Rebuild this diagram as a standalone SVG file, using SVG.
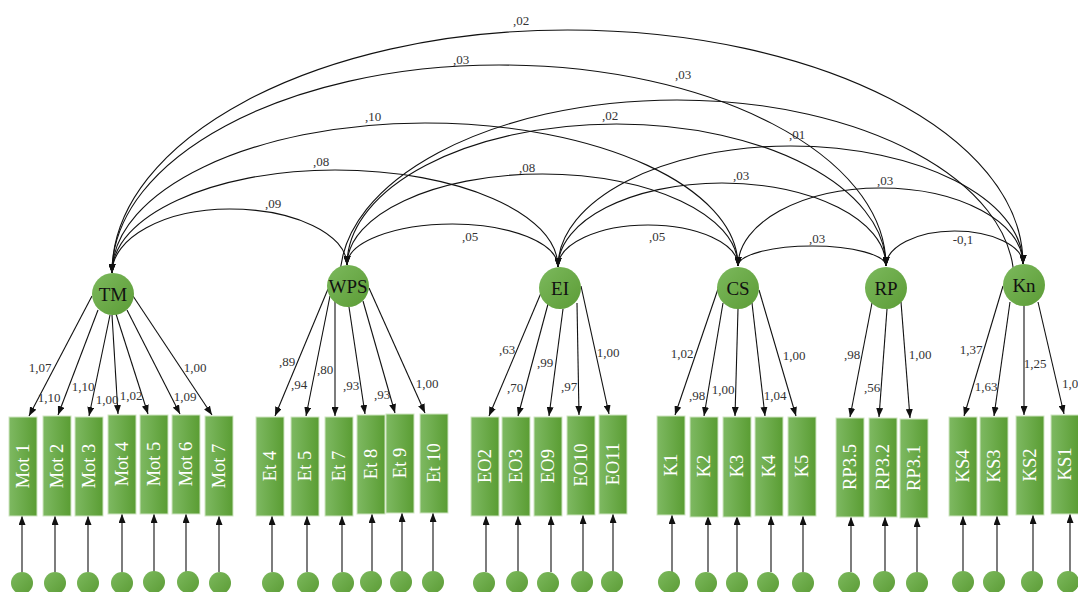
<svg xmlns="http://www.w3.org/2000/svg" width="1078" height="592" viewBox="0 0 1078 592">
<style>
.bg{fill:#ffffff}
.lat{fill:url(#gC)}
.err{fill:url(#gC)}
.box{fill:url(#gB);stroke:#cfe5c2;stroke-width:1}
.ln{stroke:#111;stroke-width:1.1;fill:none;marker-end:url(#ah)}
.arc{stroke:#111;stroke-width:1.1;fill:none;marker-start:url(#ah);marker-end:url(#ah)}
.lt{font-family:"Liberation Serif",serif;font-size:19px;fill:#111;text-anchor:middle}
.bt{font-family:"Liberation Serif",serif;font-size:18.5px;fill:#ffffff;text-anchor:middle}
.nl{font-family:"Liberation Serif",serif;font-size:13px;fill:#333;text-anchor:middle}
</style>
<defs>
<linearGradient id="gB" x1="0" y1="0" x2="1" y2="0">
<stop offset="0" stop-color="#7eb962"/>
<stop offset="1" stop-color="#5a9d33"/>
</linearGradient>
<linearGradient id="gC" x1="0" y1="0" x2="1" y2="1">
<stop offset="0" stop-color="#7cb95d"/>
<stop offset="1" stop-color="#5c9c36"/>
</linearGradient>
<marker id="ah" viewBox="0 0 10 10" refX="10" refY="5" markerWidth="9" markerHeight="7" markerUnits="userSpaceOnUse" orient="auto-start-reverse" preserveAspectRatio="none">
<path d="M0,0 L10,5 L0,10 z" fill="#111"/>
</marker>
</defs>
<rect class="bg" x="0" y="0" width="1078" height="592"/>

<g id="connectors">
<!-- covariances -->
<path class="arc" d="M112,273 C112,237.7 164.6,209 229.5,209 C294.4,209 347,234.1 347,265"/>
<path class="arc" d="M112,273 C112,216.1 211.8,170 335,170 C458.2,170 558,213.4 558,267"/>
<path class="arc" d="M112,273 C112,190.2 252.1,123 425,123 C597.9,123 738,187 738,266"/>
<path class="arc" d="M112,273 C112,158.1 285.3,65 499,65 C712.7,65 886,155 886,266"/>
<path class="arc" d="M112,273 C112,138.8 315.9,30 567.5,30 C819.1,30 1023,134.8 1023,264"/>
<path class="arc" d="M347,265 C347,242.4 394.2,224 452.5,224 C510.8,224 558,243.3 558,267"/>
<path class="arc" d="M347,265 C347,214.7 434.5,174 542.5,174 C650.5,174 738,215.2 738,266"/>
<path class="arc" d="M347,265 C347,187.1 467.7,124 616.5,124 C765.3,124 886,187.6 886,266"/>
<path class="arc" d="M340,279 C340,180.1 490.9,100 677,100 C863.1,100 1014,181 1014,281"/>
<path class="arc" d="M558,267 C558,243.8 598.3,225 648,225 C697.7,225 738,243.4 738,266"/>
<path class="arc" d="M558,267 C558,220.6 631.4,183 722,183 C812.6,183 886,220.2 886,266"/>
<path class="arc" d="M558,267 C558,200.2 662.1,146 790.5,146 C918.9,146 1023,198.8 1023,264"/>
<path class="arc" d="M738,266 C738,255 771.1,246 812,246 C852.9,246 886,255 886,266"/>
<path class="arc" d="M738,266 C738,222.9 801.8,188 880.5,188 C959.2,188 1023,222 1023,264"/>
<path class="arc" d="M886,266 C886,246.7 916.7,231 954.5,231 C992.3,231 1023,245.8 1023,264"/>
<!-- loadings -->
<line class="ln" x1="92" y1="296" x2="29" y2="416"/>
<line class="ln" x1="98" y1="310" x2="58" y2="415"/>
<line class="ln" x1="110" y1="315" x2="89" y2="416"/>
<line class="ln" x1="112" y1="315" x2="118" y2="414"/>
<line class="ln" x1="116" y1="314" x2="148" y2="414"/>
<line class="ln" x1="127" y1="310" x2="180" y2="414"/>
<line class="ln" x1="133" y1="296" x2="212" y2="415"/>
<line class="ln" x1="328" y1="289" x2="275" y2="416"/>
<line class="ln" x1="330" y1="296" x2="306" y2="416"/>
<line class="ln" x1="335" y1="300" x2="335" y2="416"/>
<line class="ln" x1="349" y1="307" x2="365" y2="414"/>
<line class="ln" x1="363" y1="301" x2="395" y2="413"/>
<line class="ln" x1="369" y1="288" x2="425" y2="413"/>
<line class="ln" x1="541" y1="293" x2="489" y2="416"/>
<line class="ln" x1="548" y1="304" x2="518" y2="416"/>
<line class="ln" x1="563" y1="309" x2="549" y2="416"/>
<line class="ln" x1="577" y1="303" x2="579" y2="415"/>
<line class="ln" x1="581" y1="286" x2="609" y2="414"/>
<line class="ln" x1="718" y1="289" x2="675" y2="415"/>
<line class="ln" x1="723" y1="303" x2="704" y2="416"/>
<line class="ln" x1="738" y1="309" x2="735" y2="416"/>
<line class="ln" x1="752" y1="303" x2="765" y2="416"/>
<line class="ln" x1="759" y1="290" x2="796" y2="416"/>
<line class="ln" x1="872" y1="303" x2="850" y2="417"/>
<line class="ln" x1="887" y1="309" x2="879" y2="417"/>
<line class="ln" x1="901" y1="302" x2="910" y2="418"/>
<line class="ln" x1="1003" y1="286" x2="964" y2="416"/>
<line class="ln" x1="1010" y1="302" x2="994" y2="416"/>
<line class="ln" x1="1024" y1="306" x2="1024" y2="415"/>
<line class="ln" x1="1038" y1="302" x2="1064" y2="414"/>
<!-- errors -->
<line class="ln" x1="22" y1="572" x2="22" y2="516"/>
<line class="ln" x1="55" y1="572" x2="55" y2="516"/>
<line class="ln" x1="88" y1="572" x2="88" y2="516"/>
<line class="ln" x1="122" y1="572" x2="122" y2="514"/>
<line class="ln" x1="154" y1="572" x2="154" y2="514"/>
<line class="ln" x1="186" y1="572" x2="186" y2="514"/>
<line class="ln" x1="219" y1="572" x2="219" y2="516"/>
<line class="ln" x1="272" y1="572" x2="272" y2="516"/>
<line class="ln" x1="307" y1="572" x2="307" y2="516"/>
<line class="ln" x1="342" y1="572" x2="342" y2="516"/>
<line class="ln" x1="372" y1="572" x2="372" y2="514"/>
<line class="ln" x1="402" y1="572" x2="402" y2="513"/>
<line class="ln" x1="433" y1="572" x2="433" y2="513"/>
<line class="ln" x1="486" y1="572" x2="486" y2="516"/>
<line class="ln" x1="518" y1="572" x2="518" y2="516"/>
<line class="ln" x1="551" y1="572" x2="551" y2="516"/>
<line class="ln" x1="583" y1="572" x2="583" y2="515"/>
<line class="ln" x1="613" y1="572" x2="613" y2="514"/>
<line class="ln" x1="672" y1="572" x2="672" y2="515"/>
<line class="ln" x1="708" y1="572" x2="708" y2="516"/>
<line class="ln" x1="737" y1="572" x2="737" y2="516"/>
<line class="ln" x1="771" y1="572" x2="771" y2="516"/>
<line class="ln" x1="803" y1="572" x2="803" y2="516"/>
<line class="ln" x1="851" y1="572" x2="851" y2="517"/>
<line class="ln" x1="885" y1="572" x2="885" y2="517"/>
<line class="ln" x1="917" y1="572" x2="917" y2="518"/>
<line class="ln" x1="963" y1="572" x2="963" y2="516"/>
<line class="ln" x1="997" y1="572" x2="997" y2="516"/>
<line class="ln" x1="1033" y1="572" x2="1033" y2="515"/>
<line class="ln" x1="1070" y1="572" x2="1070" y2="514"/>
</g>

<g id="cov-labels">
<text class="nl" x="521" y="25">,02</text>
<text class="nl" x="461" y="64">,03</text>
<text class="nl" x="683" y="79">,03</text>
<text class="nl" x="373" y="121">,10</text>
<text class="nl" x="610" y="120">,02</text>
<text class="nl" x="797" y="139">,01</text>
<text class="nl" x="321" y="166">,08</text>
<text class="nl" x="527" y="172">,08</text>
<text class="nl" x="741" y="180">,03</text>
<text class="nl" x="885" y="185">,03</text>
<text class="nl" x="273" y="208">,09</text>
<text class="nl" x="470" y="241">,05</text>
<text class="nl" x="657" y="241">,05</text>
<text class="nl" x="817" y="243">,03</text>
<text class="nl" x="963" y="244">-0,1</text>
</g>

<g id="load-labels">
<text class="nl" x="40" y="372">1,07</text>
<text class="nl" x="49" y="402">1,10</text>
<text class="nl" x="83" y="391">1,10</text>
<text class="nl" x="107" y="404">1,00</text>
<text class="nl" x="131" y="400">1,02</text>
<text class="nl" x="185" y="401">1,09</text>
<text class="nl" x="195" y="372">1,00</text>
<text class="nl" x="287" y="366">,89</text>
<text class="nl" x="299" y="389">,94</text>
<text class="nl" x="325" y="374">,80</text>
<text class="nl" x="351" y="390">,93</text>
<text class="nl" x="382" y="399">,93</text>
<text class="nl" x="427" y="388">1,00</text>
<text class="nl" x="507" y="354">,63</text>
<text class="nl" x="515" y="392">,70</text>
<text class="nl" x="545" y="367">,99</text>
<text class="nl" x="569" y="391">,97</text>
<text class="nl" x="608" y="357">1,00</text>
<text class="nl" x="682" y="358">1,02</text>
<text class="nl" x="697" y="400">,98</text>
<text class="nl" x="723" y="394">1,00</text>
<text class="nl" x="775" y="400">1,04</text>
<text class="nl" x="794" y="360">1,00</text>
<text class="nl" x="852" y="359">,98</text>
<text class="nl" x="872" y="392">,56</text>
<text class="nl" x="920" y="359">1,00</text>
<text class="nl" x="971" y="354">1,37</text>
<text class="nl" x="986" y="391">1,63</text>
<text class="nl" x="1035" y="368">1,25</text>
<text class="nl" x="1070" y="388">1,0</text>
</g>

<g id="TM"><circle class="lat" cx="113" cy="294" r="21"/><text class="lt" x="113" y="301">TM</text></g>
<g id="WPS"><circle class="lat" cx="348" cy="286" r="21"/><text class="lt" x="348" y="293">WPS</text></g>
<g id="EI"><circle class="lat" cx="560" cy="288" r="21"/><text class="lt" x="560" y="295">EI</text></g>
<g id="CS"><circle class="lat" cx="738" cy="288" r="21"/><text class="lt" x="738" y="295">CS</text></g>
<g id="RP"><circle class="lat" cx="886" cy="288" r="21"/><text class="lt" x="886" y="295">RP</text></g>
<g id="Kn"><circle class="lat" cx="1024" cy="285" r="21"/><text class="lt" x="1024" y="292">Kn</text></g>

<g id="Mot1"><rect class="box" x="9" y="417" width="28" height="99"/><text class="bt" transform="translate(23,466) rotate(-90)" dy="0.35em">Mot 1</text></g>
<g id="Mot2"><rect class="box" x="43" y="416" width="28" height="100"/><text class="bt" transform="translate(57,466) rotate(-90)" dy="0.35em">Mot 2</text></g>
<g id="Mot3"><rect class="box" x="75" y="417" width="28" height="99"/><text class="bt" transform="translate(89,466) rotate(-90)" dy="0.35em">Mot 3</text></g>
<g id="Mot4"><rect class="box" x="108" y="415" width="28" height="99"/><text class="bt" transform="translate(122,464) rotate(-90)" dy="0.35em">Mot 4</text></g>
<g id="Mot5"><rect class="box" x="140" y="415" width="28" height="99"/><text class="bt" transform="translate(154,464) rotate(-90)" dy="0.35em">Mot 5</text></g>
<g id="Mot6"><rect class="box" x="172" y="415" width="28" height="99"/><text class="bt" transform="translate(186,464) rotate(-90)" dy="0.35em">Mot 6</text></g>
<g id="Mot7"><rect class="box" x="205" y="416" width="28" height="100"/><text class="bt" transform="translate(219,466) rotate(-90)" dy="0.35em">Mot 7</text></g>

<g id="Et4"><rect class="box" x="256" y="417" width="28" height="99"/><text class="bt" transform="translate(270,466) rotate(-90)" dy="0.35em">Et 4</text></g>
<g id="Et5"><rect class="box" x="291" y="417" width="28" height="99"/><text class="bt" transform="translate(305,466) rotate(-90)" dy="0.35em">Et 5</text></g>
<g id="Et7"><rect class="box" x="325" y="417" width="28" height="99"/><text class="bt" transform="translate(339,466) rotate(-90)" dy="0.35em">Et 7</text></g>
<g id="Et8"><rect class="box" x="357" y="415" width="28" height="99"/><text class="bt" transform="translate(371,464) rotate(-90)" dy="0.35em">Et 8</text></g>
<g id="Et9"><rect class="box" x="386" y="414" width="28" height="99"/><text class="bt" transform="translate(400,463) rotate(-90)" dy="0.35em">Et 9</text></g>
<g id="Et10"><rect class="box" x="420" y="414" width="28" height="99"/><text class="bt" transform="translate(434,463) rotate(-90)" dy="0.35em">Et 10</text></g>

<g id="EO2"><rect class="box" x="471" y="417" width="28" height="99"/><text class="bt" transform="translate(485,466) rotate(-90)" dy="0.35em">EO2</text></g>
<g id="EO3"><rect class="box" x="502" y="417" width="28" height="99"/><text class="bt" transform="translate(516,466) rotate(-90)" dy="0.35em">EO3</text></g>
<g id="EO9"><rect class="box" x="534" y="417" width="28" height="99"/><text class="bt" transform="translate(548,466) rotate(-90)" dy="0.35em">EO9</text></g>
<g id="EO10"><rect class="box" x="567" y="416" width="28" height="99"/><text class="bt" transform="translate(581,465) rotate(-90)" dy="0.35em">EO10</text></g>
<g id="EO11"><rect class="box" x="599" y="415" width="28" height="99"/><text class="bt" transform="translate(613,464) rotate(-90)" dy="0.35em">EO11</text></g>

<g id="K1"><rect class="box" x="657" y="416" width="28" height="99"/><text class="bt" transform="translate(671,465) rotate(-90)" dy="0.35em">K1</text></g>
<g id="K2"><rect class="box" x="690" y="417" width="28" height="100"/><text class="bt" transform="translate(704,466) rotate(-90)" dy="0.35em">K2</text></g>
<g id="K3"><rect class="box" x="723" y="417" width="28" height="100"/><text class="bt" transform="translate(737,466) rotate(-90)" dy="0.35em">K3</text></g>
<g id="K4"><rect class="box" x="755" y="417" width="28" height="99"/><text class="bt" transform="translate(769,466) rotate(-90)" dy="0.35em">K4</text></g>
<g id="K5"><rect class="box" x="788" y="417" width="28" height="99"/><text class="bt" transform="translate(802,466) rotate(-90)" dy="0.35em">K5</text></g>

<g id="RP3.5"><rect class="box" x="836" y="418" width="28" height="99"/><text class="bt" transform="translate(850,467) rotate(-90)" dy="0.35em">RP3.5</text></g>
<g id="RP3.2"><rect class="box" x="869" y="418" width="28" height="99"/><text class="bt" transform="translate(883,467) rotate(-90)" dy="0.35em">RP3.2</text></g>
<g id="RP3.1"><rect class="box" x="900" y="419" width="28" height="99"/><text class="bt" transform="translate(914,468) rotate(-90)" dy="0.35em">RP3.1</text></g>

<g id="KS4"><rect class="box" x="949" y="417" width="28" height="99"/><text class="bt" transform="translate(963,466) rotate(-90)" dy="0.35em">KS4</text></g>
<g id="KS3"><rect class="box" x="980" y="417" width="28" height="99"/><text class="bt" transform="translate(994,466) rotate(-90)" dy="0.35em">KS3</text></g>
<g id="KS2"><rect class="box" x="1016" y="416" width="28" height="99"/><text class="bt" transform="translate(1030,465) rotate(-90)" dy="0.35em">KS2</text></g>
<g id="KS1"><rect class="box" x="1051" y="415" width="28" height="99"/><text class="bt" transform="translate(1065,464) rotate(-90)" dy="0.35em">KS1</text></g>

<g id="errors">
<circle class="err" cx="22" cy="583" r="11"/>
<circle class="err" cx="55" cy="583" r="11"/>
<circle class="err" cx="88" cy="583" r="11"/>
<circle class="err" cx="122" cy="583" r="11"/>
<circle class="err" cx="154" cy="582" r="11"/>
<circle class="err" cx="188" cy="582" r="11"/>
<circle class="err" cx="220" cy="583" r="11"/>
<circle class="err" cx="273" cy="583" r="11"/>
<circle class="err" cx="308" cy="583" r="11"/>
<circle class="err" cx="343" cy="583" r="11"/>
<circle class="err" cx="371" cy="582" r="11"/>
<circle class="err" cx="401" cy="582" r="11"/>
<circle class="err" cx="433" cy="582" r="11"/>
<circle class="err" cx="484" cy="583" r="11"/>
<circle class="err" cx="517" cy="582" r="11"/>
<circle class="err" cx="548" cy="583" r="11"/>
<circle class="err" cx="582" cy="582" r="11"/>
<circle class="err" cx="612" cy="582" r="11"/>
<circle class="err" cx="669" cy="582" r="11"/>
<circle class="err" cx="706" cy="583" r="11"/>
<circle class="err" cx="737" cy="583" r="11"/>
<circle class="err" cx="768" cy="583" r="11"/>
<circle class="err" cx="803" cy="583" r="11"/>
<circle class="err" cx="849" cy="583" r="11"/>
<circle class="err" cx="884" cy="582" r="11"/>
<circle class="err" cx="917" cy="583" r="11"/>
<circle class="err" cx="963" cy="582" r="11"/>
<circle class="err" cx="994" cy="582" r="11"/>
<circle class="err" cx="1032" cy="582" r="11"/>
<circle class="err" cx="1068" cy="582" r="11"/>
</g>
</svg>
